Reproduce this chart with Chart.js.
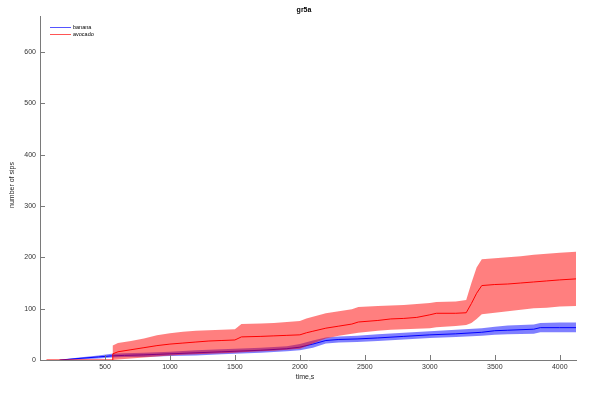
<!DOCTYPE html>
<html>
<head>
<meta charset="utf-8">
<script src="https://cdn.jsdelivr.net/npm/chart.js@4/dist/chart.umd.min.js"></script>
<style>
  body { margin: 0; background: #fff; }
</style>
</head>
<body>
<canvas id="chart" width="600" height="395"></canvas>
<script>
// banana (blue)
const bananaTime = [150, 300, 450, 550, 650, 800, 900, 1000, 1200, 1400, 1500, 1700, 1900, 2000, 2100, 2200, 2300, 2440, 2600, 2800, 3000, 3200, 3400, 3500, 3600, 3800, 3850, 4000, 4125];
const bananaMean = [0, 3, 6, 8, 9, 10, 11, 12, 14, 16, 17, 19, 22, 25, 31, 38, 40, 41, 43, 46, 49, 51, 54, 57, 58, 60, 63, 63, 63];
const bananaLow = [0, 1, 3, 5, 6, 6, 7, 8, 9, 11, 12, 14, 17, 19, 24, 32, 34, 35, 37, 40, 43, 45, 47, 49, 50, 51, 54, 54, 54];
const bananaHigh = [0, 5, 9, 12, 13, 14, 15, 16, 19, 21, 22, 24, 27, 31, 38, 44, 46, 47, 50, 53, 56, 59, 62, 65, 67, 69, 72, 73, 73];

// avocado (red)
const avocadoTime = [50, 555, 560, 600, 700, 800, 900, 1000, 1100, 1200, 1300, 1400, 1500, 1550, 1700, 1800, 1900, 2000, 2050, 2100, 2200, 2300, 2400, 2450, 2600, 2700, 2800, 2900, 3000, 3050, 3200, 3280, 3320, 3360, 3400, 3500, 3600, 3700, 3800, 3900, 4000, 4125];
const avocadoMean = [0, 0, 12, 16, 20, 24, 28, 31, 33, 35, 37, 38, 39, 45, 46, 47, 48, 49, 53, 56, 62, 66, 70, 74, 77, 80, 81, 83, 88, 91, 91, 92, 110, 130, 145, 147, 148, 150, 152, 154, 156, 158];
const avocadoLow = [0, 0, 0, 1, 3, 5, 7, 9, 10, 11, 12, 13, 14, 15, 17, 18, 20, 22, 27, 32, 42, 47, 51, 53, 57, 59, 60, 61, 62, 64, 66, 68, 72, 80, 89, 92, 95, 98, 101, 102, 104, 105];
const avocadoHigh = [0, 0, 28, 33, 37, 42, 48, 52, 55, 57, 58, 59, 60, 70, 71, 72, 74, 76, 81, 84, 91, 95, 99, 103, 105, 106, 107, 109, 111, 113, 114, 117, 150, 180, 196, 198, 200, 202, 205, 207, 209, 211];

const xTicks = [500, 1000, 1500, 2000, 2500, 3000, 3500, 4000];
const yTicks = [0, 100, 200, 300, 400, 500, 600];

const toPoints = (xs, ys) => xs.map((x, i) => ({ x: x, y: ys[i] }));

const FONT = "'Liberation Sans', Arial, sans-serif";
const AXIS = "#7a7a7a";

const decorations = {
  id: "decorations",
  afterDraw(chart) {
    const ctx = chart.ctx;
    const xs = chart.scales.x;
    const ys = chart.scales.y;
    const area = chart.chartArea;
    ctx.save();
    // tick marks inside the axes
    ctx.strokeStyle = AXIS;
    ctx.lineWidth = 1;
    ctx.beginPath();
    xTicks.forEach((t) => {
      const px = Math.round(xs.getPixelForValue(t)) + 0.5;
      ctx.moveTo(px, area.bottom);
      ctx.lineTo(px, area.bottom - 5);
    });
    yTicks.forEach((t) => {
      const py = Math.round(ys.getPixelForValue(t)) + 0.5;
      ctx.moveTo(area.left, py);
      ctx.lineTo(area.left + 5, py);
    });
    ctx.stroke();

    // title
    ctx.fillStyle = "#000";
    ctx.font = "bold 7px " + FONT;
    ctx.textAlign = "center";
    ctx.textBaseline = "middle";
    ctx.fillText("gr5a", 304, 10);

    // axis titles
    ctx.font = "7px " + FONT;
    ctx.fillStyle = "#262626";
    ctx.fillText("time,s", 305, 377);
    ctx.save();
    ctx.translate(12, 185);
    ctx.rotate(-Math.PI / 2);
    ctx.fillText("number of sips", 0, 0);
    ctx.restore();

    // legend
    const legend = [
      { label: "banana", color: "#5555ff", y: 27 },
      { label: "avocado", color: "#ff5555", y: 34 },
    ];
    ctx.font = "5.5px " + FONT;
    ctx.textAlign = "left";
    legend.forEach((item) => {
      ctx.fillStyle = item.color;
      ctx.fillRect(50, item.y, 21, 1);
      ctx.fillStyle = "#000";
      ctx.fillText(item.label, 73, item.y + 0.5);
    });
    ctx.restore();
  },
};

const ctx = document.getElementById("chart").getContext("2d");
new Chart(ctx, {
  type: "line",
  data: {
    datasets: [
      {
        label: "avocado",
        data: toPoints(avocadoTime, avocadoMean),
        borderColor: "rgb(255,0,0)",
        borderWidth: 1,
        pointRadius: 0,
        fill: false,
        order: 0,
      },
      {
        label: "avocado high",
        data: toPoints(avocadoTime, avocadoHigh),
        borderWidth: 0,
        pointRadius: 0,
        backgroundColor: "rgba(255,0,0,0.5)",
        fill: "+1",
        order: 1,
      },
      {
        label: "avocado low",
        data: toPoints(avocadoTime, avocadoLow),
        borderWidth: 0,
        pointRadius: 0,
        fill: false,
        order: 1,
      },
      {
        label: "banana",
        data: toPoints(bananaTime, bananaMean),
        borderColor: "rgb(0,0,255)",
        borderWidth: 1,
        pointRadius: 0,
        fill: false,
        order: 2,
      },
      {
        label: "banana high",
        data: toPoints(bananaTime, bananaHigh),
        borderWidth: 0,
        pointRadius: 0,
        backgroundColor: "rgba(0,0,255,0.5)",
        fill: "+1",
        order: 3,
      },
      {
        label: "banana low",
        data: toPoints(bananaTime, bananaLow),
        borderWidth: 0,
        pointRadius: 0,
        fill: false,
        order: 3,
      },
    ],
  },
  options: {
    responsive: false,
    animation: false,
    layout: { padding: { top: 16, right: 24, left: 0, bottom: 0 } },
    plugins: {
      legend: { display: false },
      title: { display: false },
      tooltip: { enabled: false },
    },
    scales: {
      x: {
        type: "linear",
        min: 0,
        max: 4125,
        grid: { display: false, drawTicks: false },
        border: { color: AXIS, width: 1 },
        ticks: {
          padding: 3,
          color: "#333",
          font: { size: 7, family: FONT },
          maxRotation: 0,
          autoSkip: false,
          callback: (v) => String(v),
        },
        afterBuildTicks: (scale) => { scale.ticks = xTicks.map((v) => ({ value: v })); },
        afterFit: (scale) => { scale.height = 35; },
      },
      y: {
        min: 0,
        max: 670,
        grid: { display: false, drawTicks: false },
        border: { color: AXIS, width: 1 },
        ticks: {
          padding: 4,
          color: "#333",
          font: { size: 7, family: FONT },
          autoSkip: false,
          callback: (v) => String(v),
        },
        afterBuildTicks: (scale) => { scale.ticks = yTicks.map((v) => ({ value: v })); },
        afterFit: (scale) => { scale.width = 40; },
      },
    },
  },
  plugins: [decorations],
});
</script>
</body>
</html>
